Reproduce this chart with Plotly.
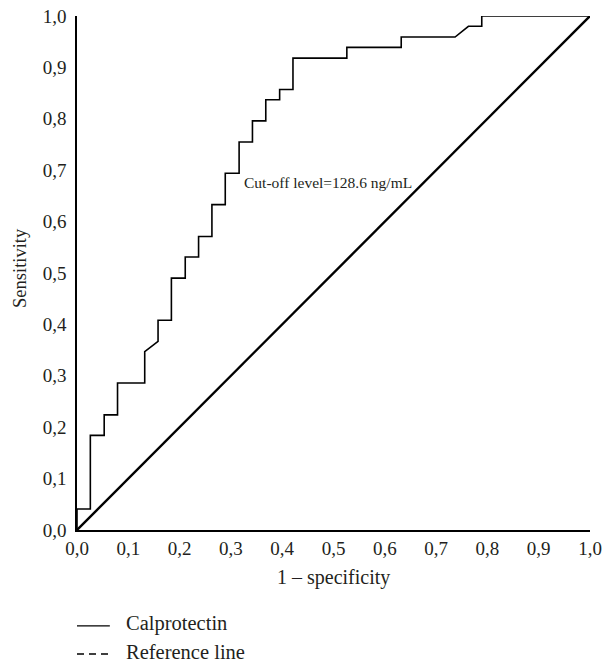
import plotly.graph_objects as go

# ROC curve (1 - specificity, sensitivity)
fpr = [0.0, 0.0, 0.026, 0.026, 0.053, 0.053, 0.079, 0.079, 0.132, 0.132, 0.158, 0.158,
       0.184, 0.184, 0.211, 0.211, 0.237, 0.237, 0.263, 0.263, 0.289, 0.289, 0.316, 0.316,
       0.342, 0.342, 0.368, 0.368, 0.395, 0.395, 0.421, 0.421, 0.526, 0.526, 0.632, 0.632,
       0.737, 0.763, 0.789, 0.789, 1.0]
tpr = [0.0, 0.041, 0.041, 0.184, 0.184, 0.224, 0.224, 0.286, 0.286, 0.347, 0.367, 0.408,
       0.408, 0.490, 0.490, 0.531, 0.531, 0.571, 0.571, 0.633, 0.633, 0.694, 0.694, 0.755,
       0.755, 0.796, 0.796, 0.837, 0.837, 0.857, 0.857, 0.918, 0.918, 0.939, 0.939, 0.959,
       0.959, 0.980, 0.980, 1.0, 1.0]
ref_x = [0.0, 1.0]
ref_y = [0.0, 1.0]

series_names = ["Calprotectin", "Reference line"]
tick_vals = [0.0, 0.1, 0.2, 0.3, 0.4, 0.5, 0.6, 0.7, 0.8, 0.9, 1.0]
tick_text = ["0,0", "0,1", "0,2", "0,3", "0,4", "0,5", "0,6", "0,7", "0,8", "0,9", "1,0"]
cutoff_label = "Cut-off level=128.6 ng/mL"
x_title = "1 – specificity"
y_title = "Sensitivity"

FONT = "Liberation Serif"
TXT = "#231f20"

fig = go.Figure()
fig.add_trace(go.Scatter(x=fpr, y=tpr, mode="lines", name=series_names[0],
                         line=dict(color="black", width=1.6), cliponaxis=False,
                         showlegend=False))
fig.add_trace(go.Scatter(x=ref_x, y=ref_y, mode="lines", name=series_names[1],
                         line=dict(color="black", width=2.4), cliponaxis=False,
                         showlegend=False))

fig.add_annotation(x=0.322, y=0.677, xref="x", yref="y", text=cutoff_label,
                   showarrow=False, xanchor="left", yanchor="middle",
                   font=dict(family=FONT, size=15.5, color=TXT))
fig.add_annotation(x=0.5, y=-0.092, xref="paper", yref="paper", text=x_title,
                   showarrow=False, xanchor="center", yanchor="middle",
                   font=dict(family=FONT, size=20, color=TXT))
fig.add_annotation(x=-0.111, y=0.51, xref="paper", yref="paper", text=y_title,
                   showarrow=False, textangle=-90, xanchor="center", yanchor="middle",
                   font=dict(family=FONT, size=18.5, color=TXT))

# legend (drawn as keys + labels below the plot)
legend_rows = [(-0.1867, "solid"), (-0.2412, "7px,5px")]
for name, (ly, dash) in zip(series_names, legend_rows):
    fig.add_shape(type="line", xref="paper", yref="paper", x0=0.0, x1=0.064, y0=ly, y1=ly,
                  line=dict(color="black", width=1.3, dash=dash))
    fig.add_annotation(x=0.0936, y=ly + 0.004, xref="paper", yref="paper", text=name,
                       showarrow=False, xanchor="left", yanchor="middle", borderpad=0,
                       font=dict(family=FONT, size=20.5, color=TXT))

axis_common = dict(range=[0, 1], tickvals=tick_vals, ticktext=tick_text,
                   showgrid=False, zeroline=False, showline=True, linecolor="black",
                   linewidth=1.5, ticks="", automargin=False,
                   tickfont=dict(family=FONT, size=19, color=TXT), fixedrange=True)

fig.update_layout(
    width=606, height=667,
    margin=dict(l=77, r=16, t=16, b=137),
    plot_bgcolor="white", paper_bgcolor="white",
    xaxis=dict(**axis_common, ticklabelstandoff=0),
    yaxis=dict(**axis_common, ticklabelstandoff=5),
    showlegend=False,
)

fig.write_html("out.html", config={"displayModeBar": False},
               post_script="document.body.style.margin='0';")
